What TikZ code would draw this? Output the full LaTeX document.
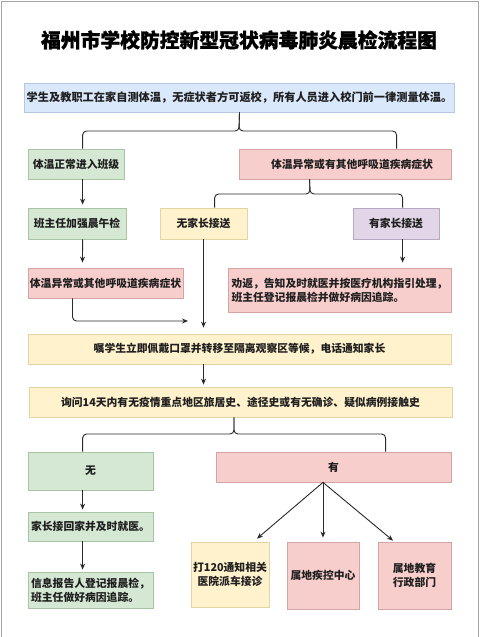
\documentclass[tikz,border=0pt]{standalone}
\usepackage{fontspec}
\setmainfont{Noto Sans CJK SC}
\newfontfamily\titlefont{Noto Sans CJK SC}[BoldFeatures={FakeBold=1.2}]
\usetikzlibrary{arrows.meta}
\definecolor{fblue}{HTML}{DAE8FC}\definecolor{dblue}{HTML}{B4C8E0}
\definecolor{fgreen}{HTML}{D5E8D4}\definecolor{dgreen}{HTML}{A8C4A2}
\definecolor{fpink}{HTML}{F8CECC}\definecolor{dpink}{HTML}{D4A3A3}
\definecolor{fyel}{HTML}{FFF2CC}\definecolor{dyel}{HTML}{E3D4A6}
\definecolor{fpur}{HTML}{E1D5E7}\definecolor{dpur}{HTML}{B8A8C2}
\definecolor{lin}{HTML}{2A2A2A}
\tikzset{
  box/.style={rectangle, inner sep=2pt, line width=0.8pt, font=\fontsize{10.8}{14}\selectfont\bfseries, text=black!88},
  bluebox/.style={box, fill=fblue, draw=dblue},
  greenbox/.style={box, fill=fgreen, draw=dgreen},
  pinkbox/.style={box, fill=fpink, draw=dpink},
  yelbox/.style={box, fill=fyel, draw=dyel},
  purbox/.style={box, fill=fpur, draw=dpur},
  conn/.style={draw=lin, line width=0.9pt, rounded corners=4pt},
  arr/.style={conn, -{Stealth[length=6pt,width=5pt]}},
}
\begin{document}
\begin{tikzpicture}[x=1pt,y=-1pt]
\useasboundingbox (0,0) rectangle (480,637);
\fill[white] (0,0) rectangle (480,637);
\draw[gray!70, line width=1.2pt] (1.5,637) -- (1.5,1.5) -- (478.2,1.5) -- (478.2,637);
\node[font=\fontsize{19.8}{24}\selectfont\titlefont\bfseries, text=black] (title) at (239,40) {福州市学校防控新型冠状病毒肺炎晨检流程图};

\node[bluebox, minimum width=423pt, minimum height=29pt, font=\fontsize{11.2}{14}\selectfont\bfseries] (b1) at (239.5,97.5) {学生及教职工在家自测体温，无症状者方可返校，所有人员进入校门前一律测量体温。};
\node[greenbox, minimum width=96pt, minimum height=30pt] (g1) at (76,164) {体温正常进入班级};
\node[pinkbox, minimum width=212pt, minimum height=30pt] (p1) at (345,164) {\hspace*{14pt}体温异常或有其他呼吸道疾病症状};
\node[greenbox, minimum width=98pt, minimum height=31pt] (g2) at (77,223.5) {班主任加强晨午检};
\node[yelbox, minimum width=87pt, minimum height=31pt] (y1) at (203.5,223.5) {无家长接送};
\node[purbox, minimum width=86pt, minimum height=31pt] (u1) at (396,223.5) {有家长接送};
\node[pinkbox, minimum width=155pt, minimum height=30pt] (p2) at (105.5,283) {体温异常或其他呼吸道疾病症状};
\node[pinkbox, minimum width=223pt, minimum height=44pt, align=left] (p3) at (339.5,290) {劝返，告知及时就医并按医疗机构指引处理，\\班主任登记报晨检并做好病因追踪。};
\node[yelbox, minimum width=423pt, minimum height=30pt] (y2) at (239.5,349) {嘱学生立即佩戴口罩并转移至隔离观察区等候，电话通知家长};
\node[yelbox, minimum width=423pt, minimum height=30pt] (y3) at (240.5,402) {询问14天内有无疫情重点地区旅居史、途径史或有无确诊、疑似病例接触史};
\node[greenbox, minimum width=125pt, minimum height=38pt] (g3) at (90.5,471) {无};
\node[pinkbox, minimum width=235pt, minimum height=30pt] (p4) at (333.5,467) {有};
\node[greenbox, minimum width=125pt, minimum height=29pt] (g4) at (90.5,526.5) {家长接回家并及时就医。};
\node[greenbox, minimum width=125pt, minimum height=36pt, align=left] (g5) at (90.5,590) {信息报告人登记报晨检，\\班主任做好病因追踪。};
\node[yelbox, minimum width=78pt, minimum height=65pt, align=center] (y4) at (230,574.5) {打120通知相关\\医院派车接诊};
\node[pinkbox, minimum width=72pt, minimum height=67pt] (p5) at (323,575.5) {属地疾控中心};
\node[pinkbox, minimum width=73pt, minimum height=67pt, align=center] (p6) at (414.5,575.5) {属地教育\\行政部门};

% junctions
\coordinate (j1) at (239,131);
\coordinate (j2) at (310,194);
\coordinate (j3) at (234,434);
\coordinate (e1) at (188,321);

\draw[conn] (b1.south) -- (j1) -| ([xshift=55pt]g1.north west);
\draw[conn] (b1.south) -- (j1) -| ([xshift=158pt]p1.north west);
\draw[conn] ([xshift=71pt]p1.south west) -- (j2) -| ([xshift=55pt]y1.north west);
\draw[conn] ([xshift=71pt]p1.south west) -- (j2) -| ([xshift=50pt]u1.north west);

\draw[arr] ([xshift=55pt]g1.south west) -- ([xshift=55pt,yshift=3pt]g2.north west);
\draw[arr] ([xshift=55pt]g2.south west) -- ([xshift=55pt,yshift=5pt]p2.north west);
\draw[arr] ([xshift=50pt]u1.south west) -- ([xshift=50pt,yshift=5pt]u1.south west |- p3.north);
\draw[arr] ([xshift=45pt]p2.south west) |- (e1);
\draw[arr] (y1.south) -- ([yshift=6pt]y1.south |- y2.north);
\draw[arr] (y1.south |- y2.south) -- ([yshift=2pt]y1.south |- y3.north);

\draw[conn] ([xshift=-6.5pt]y3.south) -- (j3) -| ([xshift=55pt]g3.north west);
\draw[conn] ([xshift=-6.5pt]y3.south) -- (j3) -| ([xshift=170pt]p4.north west);

\draw[arr] ([xshift=55pt]g3.south west) -- ([xshift=55pt,yshift=2pt]g4.north west);
\draw[arr] ([xshift=55pt]g4.south west) -- ([xshift=55pt,yshift=2pt]g5.north west);

\draw[arr] ([xshift=-10.5pt]p4.south) -- ([xshift=27pt,yshift=3pt]y4.north);
\draw[arr] ([xshift=-10.5pt]p4.south) -- ([yshift=4pt]p5.north);
\draw[arr] ([xshift=-10.5pt]p4.south) -- ([xshift=-21.5pt,yshift=1pt]p6.north);
\end{tikzpicture}
\end{document}
